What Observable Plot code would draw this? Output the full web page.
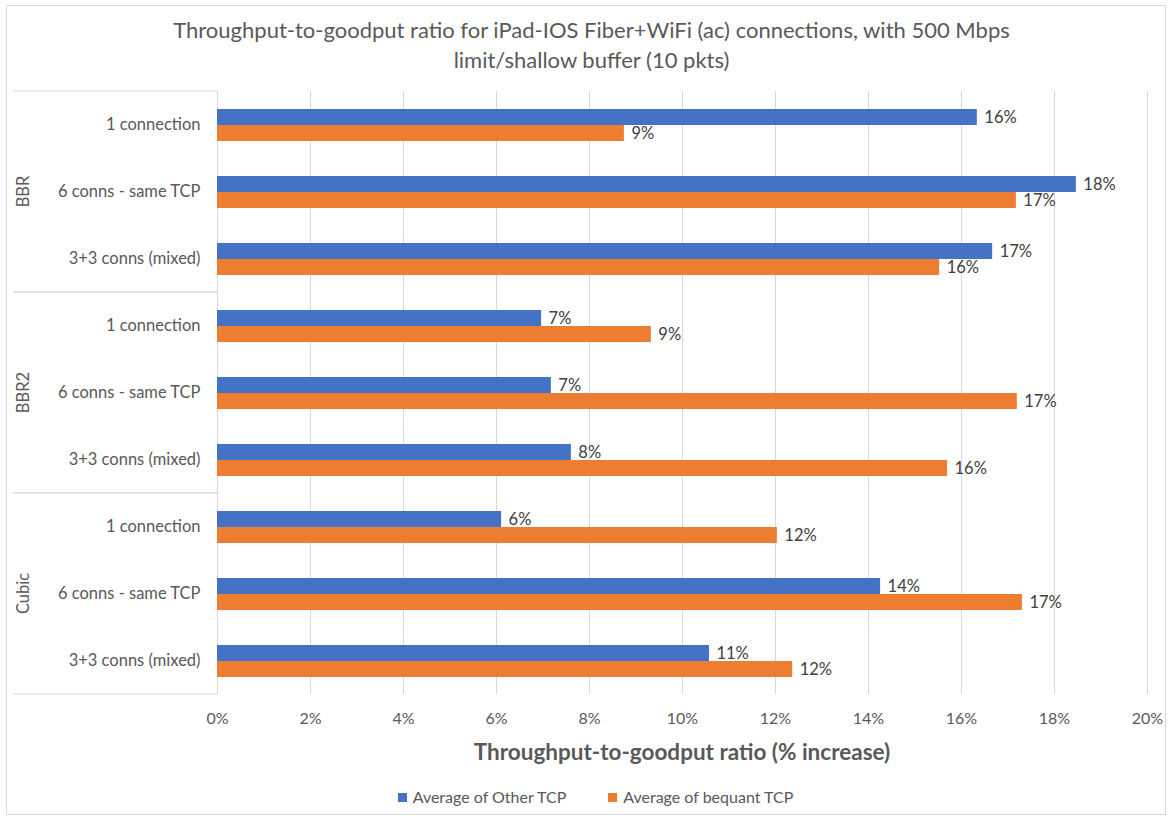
<!DOCTYPE html>
<html>
<head>
<meta charset="utf-8">
<script src="https://cdn.jsdelivr.net/npm/d3@7"></script>
<script src="https://cdn.jsdelivr.net/npm/@observablehq/plot@0.6"></script>
<style>
  body { margin: 0; background: #fff; font-family: Lato, "Open Sans", sans-serif; color: #595959; }
  #wrap { position: relative; width: 1171px; height: 820px; overflow: hidden; background: #fff; }
  #frame { position: absolute; left: 6px; top: 5px; width: 1160px; height: 810px; border: 1px solid #d9d9d9; box-sizing: border-box; pointer-events: none; }
  #title { height: 80px; box-sizing: border-box; padding-top: 15px; padding-left: 12px; text-align: center; font-size: 22px; line-height: 30px; }
  #chart svg { display: block; }
  #xlabel { height: 44px; box-sizing: border-box; padding-top: 8px; padding-left: 217px; padding-right: 24px; text-align: center; font-size: 22.5px; font-weight: bold; line-height: 28px; }
  #legend { height: 46px; box-sizing: border-box; padding-top: 13px; padding-left: 20px; text-align: center; font-size: 16px; line-height: 20px; }
  .sw { display: inline-block; width: 9px; height: 9px; margin-right: 6px; vertical-align: 1px; }
  .item { margin: 0 21px; }
</style>
</head>
<body>
<div id="wrap">
  <div id="frame"></div>
  <div id="title">Throughput-to-goodput ratio for iPad-IOS Fiber+WiFi (ac) connections, with 500 Mbps<br>limit/shallow buffer (10 pkts)</div>
  <div id="chart"></div>
  <div id="xlabel">Throughput-to-goodput ratio (% increase)</div>
  <div id="legend"></div>
</div>
<script>
const groups = ["BBR", "BBR2", "Cubic"];
const subs = ["1 connection", "6 conns - same TCP", "3+3 conns (mixed)"];
const series = ["Average of Other TCP", "Average of bequant TCP"];
const colors = ["#4472C4", "#ED7D31"];
// values in percent, order: BBR (3 subs), BBR2 (3 subs), Cubic (3 subs)
const otherTCP = [16.34, 18.47, 16.67, 6.97, 7.18, 7.61, 6.11, 14.26, 10.58];
const bequantTCP = [8.75, 17.18, 15.53, 9.33, 17.20, 15.70, 12.04, 17.31, 12.37];
const xTicks = [0, 2, 4, 6, 8, 10, 12, 14, 16, 18, 20];

const keys = [];
const table = [];
groups.forEach((g, gi) => {
  subs.forEach((s, si) => {
    const key = g + "|" + s;
    keys.push(key);
    const i = gi * subs.length + si;
    table.push({key, group: g, sub: s, series: series[0], value: otherTCP[i]});
    table.push({key, group: g, sub: s, series: series[1], value: bequantTCP[i]});
  });
});

const marginLeft = 217;
const chart = Plot.plot({
  width: 1171,
  height: 650,
  marginTop: 10,
  marginBottom: 35,
  marginLeft: marginLeft,
  marginRight: 24,
  style: { fontFamily: "Lato, 'Open Sans', sans-serif", fontSize: "16px", color: "#595959", background: "white", overflow: "visible" },
  facet: { data: table, y: "key" },
  fy: { domain: keys, padding: 0, label: null, tickFormat: k => k.split("|")[1], tickSize: 0, tickPadding: 17 },
  y: { domain: series, paddingInner: 0, paddingOuter: 1, axis: null },
  x: { domain: [0, 20], ticks: xTicks, tickFormat: d => d + "%", tickSize: 0, tickPadding: 18, label: null },
  color: { domain: series, range: colors },
  marks: [
    Plot.ruleX(xTicks, { stroke: "#d9d9d9", strokeWidth: 1 }),
    Plot.barX(table, { x: "value", y: "series", fill: "series" }),
    Plot.text(table, { x: "value", y: "series", text: d => Math.round(d.value) + "%", textAnchor: "start", dx: 7, fill: "#404040", fontSize: 16.5 })
  ]
});
document.getElementById("chart").appendChild(chart);

// enlarge the category labels on the facet axis
d3.select(chart).selectAll('[aria-label="fy-axis"] text, [aria-label="fy-axis tick label"] text').attr("font-size", 16.5);

// group dividers and rotated group labels in the left margin, placed with the fy scale
const fy = chart.scale("fy");
const svg = d3.select(chart);
const gLayer = svg.append("g").attr("aria-label", "group-labels");
groups.forEach(g => {
  const top = fy.apply(g + "|" + subs[0]);
  const bottom = fy.apply(g + "|" + subs[subs.length - 1]) + fy.bandwidth;
  [top, bottom].forEach(y => {
    gLayer.append("line")
      .attr("x1", 13).attr("x2", marginLeft)
      .attr("y1", y).attr("y2", y)
      .attr("stroke", "#d9d9d9").attr("stroke-width", 1);
  });
  const cy = (top + bottom) / 2;
  gLayer.append("text")
    .attr("transform", `translate(25,${cy}) rotate(-90)`)
    .attr("text-anchor", "middle")
    .attr("dominant-baseline", "middle")
    .attr("fill", "#595959")
    .attr("font-size", 16.5)
    .text(g);
});

// legend
const legend = d3.select("#legend");
series.forEach((s, i) => {
  const item = legend.append("span").attr("class", "item");
  item.append("span").attr("class", "sw").style("background", colors[i]);
  item.append("span").text(s);
});
</script>
</body>
</html>
